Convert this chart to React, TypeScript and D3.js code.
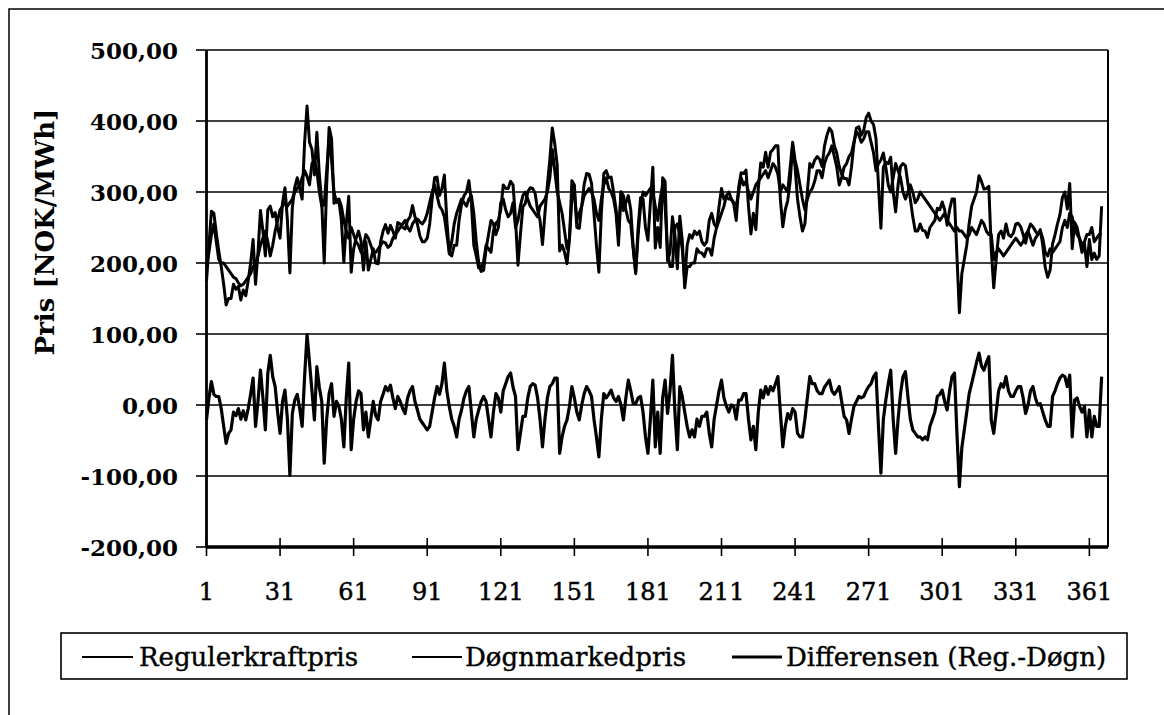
import React from "react";
import * as d3 from "d3";

// Døgnmarkedpris (system price) NOK/MWh, day 1..366
const dognValues: number[] = [
  195, 215, 240, 255, 230, 205, 200, 200, 195, 190,
  185, 180, 178, 172, 168, 170, 175, 180, 185, 195,
  200, 210, 225, 235, 245, 230, 210, 225, 245, 260,
  275, 280, 285, 280, 285, 290, 300, 305, 310, 320,
  330, 322, 310, 340, 345, 330, 300, 280, 282, 330,
  375, 345, 300, 285, 290, 280, 260, 245, 235, 250,
  240, 230, 225, 215, 225, 240, 235, 225, 215, 215,
  220, 225, 230, 228, 222, 225, 235, 240, 245, 250,
  255, 260, 250, 245, 255, 260, 262, 258, 255, 260,
  270, 285, 300, 310, 295, 280, 275, 265, 240, 215,
  230, 255, 270, 280, 290, 285, 280, 290, 295, 270,
  230, 200, 188, 190, 220, 240, 260, 255, 240, 250,
  285, 290, 275, 265, 270, 285, 250, 260, 280, 295,
  300, 290, 280, 275, 270, 265, 280, 285, 290, 300,
  320, 360, 330, 300, 285, 270, 245, 220, 235, 290,
  300, 260, 270, 280, 295, 300, 305, 300, 290, 270,
  260, 290, 310, 320, 305, 300, 290, 270, 225, 300,
  295, 275, 260, 255, 220, 185, 240, 280, 300, 295,
  300, 305, 300, 280, 260, 290, 310, 280, 215, 195,
  195, 250, 255, 240, 220, 175, 225, 240, 235, 245,
  240, 245, 230, 225, 230, 260, 270, 255, 250, 260,
  270, 280, 295, 300, 290, 285, 280, 300, 320, 310,
  315, 300, 290, 300, 310, 315, 320, 325, 330, 320,
  330, 340, 335, 325, 300, 310, 305, 300, 335, 370,
  345, 330, 310, 290, 275, 290, 300, 305, 315, 330,
  330, 320, 340, 350, 355, 365, 350, 335, 310, 320,
  335, 340, 350, 355, 370, 385, 380, 370, 375, 385,
  385, 370, 355, 330, 340, 345, 355, 335, 310, 300,
  320, 340, 330, 320, 300, 290, 300, 310, 300, 285,
  290, 300, 295, 290, 285, 280, 275, 270, 265, 260,
  265, 270, 260, 255, 250, 245, 250, 245, 245, 240,
  235, 240, 250, 245, 240, 250, 260, 255, 245, 240,
  240, 205, 215, 220, 215, 210, 215, 220, 225, 230,
  235, 230, 225, 230, 240, 245, 235, 225, 235, 240,
  245, 235, 215, 210, 220, 215, 220, 225, 230, 250,
  260, 250, 270, 265, 250, 240, 235, 225, 230, 240,
  240, 250, 230, 235, 240, 240,
];

// Differensen (Reg.-Døgn)
const diffValues: number[] = [
  -21, 10, 33, 15, 12, 12, -5, -30, -54, -40,
  -35, -10, -15, -5, -20, -8, -21, -5, 15, 38,
  -30, 5, 49, 10, -35, 45, 70, 40, 26, -10,
  -40, 5, 21, -20, -99, -12, 7, 15, -5, -30,
  40, 99, 60, 20, -21, 54, 25, 5, -82, -20,
  16, 30, -16, 5, -2, -20, -59, 10, 59, -63,
  -20, 5, 20, 16, -35, -10, -45, -20, 5, -15,
  -21, 5, 15, 26, 20, 28, 10, -5, 12, 5,
  -5, -12, 10, 20, 26, 5, -7, -20, -25, -30,
  -35, -30, -10, 10, 26, 15, 30, 59, 20, -2,
  -20, -30, -45, -20, -7, 10, 20, 26, -10, -45,
  -20, -7, 5, 12, 5, -20, -45, -10, 16, 10,
  -10, 20, 30, 40, 45, 25, 12, -63, -40, -16,
  -16, 10, 26, 30, 28, 10, -20, -59, -20, 10,
  26, 30, 38, 38, -68, -45, -30, -21, -2, 26,
  10, -10, -21, 0, 16, 26, 20, 12, -20, -45,
  -73, -20, 16, 10, 15, 21, 10, 5, 12, 0,
  -21, 10, 35, 20, 2, 2, 10, 12, -10, -45,
  -68, -20, 35, -59, -10, -68, 10, 35, -12, 20,
  70, -10, -63, 26, 12, -10, -30, -45, -35, -45,
  -20, -30, -16, -16, -10, -40, -59, -20, 0, 20,
  35, 10, -2, -10, 0, -2, -20, 7, 7, 16,
  16, -20, -49, -30, -63, -10, 21, 10, 26, 15,
  26, 20, 30, 40, -10, -59, -30, -12, -20, -5,
  -10, -40, -45, -45, -20, 10, 40, 30, 30, 20,
  16, 16, 25, 30, 35, 20, 15, 20, 26, 5,
  -16, -21, -40, -20, -2, 5, 12, 10, 12, 20,
  26, 30, 40, 45, -30, -96, -20, 7, 30, 49,
  -20, -68, -20, 16, 40, 47, 12, -20, -35, -40,
  -45, -45, -49, -45, -49, -30, -20, -10, 12, 15,
  21, 5, -7, 20, 40, 45, -40, -115, -60, -35,
  -10, 16, 30, 45, 60, 73, 55, 49, 60, 68,
  -21, -40, -10, 20, 30, 25, 40, 20, 12, 12,
  20, 26, 26, 10, -12, 0, 20, 26, 10, 0,
  2, -10, -21, -30, -30, 12, 20, 30, 38, 42,
  40, 26, 42, -45, 7, 10, -2, -10, -2, -45,
  -7, -45, -16, -30, -30, 40,
];

// Regulerkraftpris
const regValues: number[] = [
  174, 225, 273, 270, 242, 217, 195, 170, 141, 150,
  150, 170, 163, 167, 148, 162, 154, 175, 200, 233,
  170, 215, 274, 245, 210, 275, 280, 265, 271, 250,
  235, 285, 306, 260, 186, 278, 307, 320, 305, 290,
  370, 421, 370, 360, 324, 384, 325, 285, 200, 310,
  391, 375, 284, 290, 288, 260, 201, 255, 294, 187,
  220, 235, 245, 231, 190, 230, 190, 205, 220, 200,
  199, 230, 245, 254, 242, 253, 245, 235, 257, 255,
  250, 248, 260, 265, 281, 265, 255, 238, 230, 230,
  235, 255, 290, 320, 321, 295, 305, 324, 260, 213,
  210, 225, 225, 260, 283, 295, 300, 316, 285, 225,
  210, 193, 193, 202, 225, 220, 215, 245, 256, 260,
  275, 310, 305, 305, 315, 310, 262, 197, 240, 279,
  284, 300, 306, 305, 298, 275, 260, 226, 270, 310,
  346, 390, 368, 338, 217, 225, 215, 199, 233, 316,
  310, 250, 249, 280, 311, 326, 325, 312, 270, 225,
  187, 270, 326, 330, 320, 321, 300, 275, 237, 300,
  274, 285, 295, 275, 222, 187, 250, 292, 290, 250,
  232, 285, 335, 221, 250, 222, 320, 315, 203, 215,
  265, 240, 192, 266, 232, 165, 195, 195, 200, 200,
  220, 215, 214, 209, 220, 220, 211, 235, 250, 280,
  305, 290, 293, 290, 290, 283, 260, 307, 327, 326,
  331, 280, 241, 270, 247, 305, 341, 335, 356, 335,
  356, 360, 365, 365, 290, 251, 275, 288, 315, 365,
  335, 290, 265, 245, 255, 300, 340, 335, 345, 350,
  346, 336, 365, 380, 390, 385, 365, 355, 336, 325,
  319, 319, 310, 335, 368, 390, 392, 380, 387, 405,
  411, 400, 395, 375, 310, 249, 335, 342, 340, 349,
  300, 272, 310, 336, 340, 337, 312, 290, 265, 245,
  245, 255, 246, 245, 236, 250, 255, 260, 277, 275,
  286, 275, 253, 275, 290, 290, 210, 130, 185, 205,
  225, 256, 280, 290, 300, 323, 315, 304, 305, 308,
  219, 165, 205, 240, 245, 235, 255, 240, 237, 242,
  255, 256, 251, 240, 228, 245, 255, 251, 245, 240,
  247, 225, 194, 180, 190, 227, 240, 255, 268, 292,
  300, 276, 312, 220, 257, 250, 233, 215, 228, 195,
  233, 205, 214, 205, 210, 280,
];

const yTicks: number[] = [500, 400, 300, 200, 100, 0, -100, -200];
const xTickLabels: number[] = [1, 31, 61, 91, 121, 151, 181, 211, 241, 271, 301, 331, 361];
const legendLabels: string[] = ["Regulerkraftpris", "Døgnmarkedpris", "Differensen (Reg.-Døgn)"];
const yTitle = "Pris [NOK/MWh]";

const FONT = "'DejaVu Serif', 'Liberation Serif', serif";

export default function App() {
  const W = 1164;
  const H = 715;
  const left = 206.5;
  const right = 1108;
  const top = 50;
  const bottom = 547;

  const x = d3.scaleLinear().domain([1, 368.6]).range([left, right]);
  const y = d3.scaleLinear().domain([-200, 500]).range([bottom, top]);

  const line = d3
    .line<number>()
    .x((_, i) => x(i + 1))
    .y((d) => y(d));

  const fmt = (v: number) => d3.format(".2f")(v).replace(".", ",").replace("−", "-");

  const legendItems = [
    { label: legendLabels[0], x1: 82, x2: 133, tx: 139, w: 1.8 },
    { label: legendLabels[1], x1: 412, x2: 462, tx: 465, w: 1.8 },
    { label: legendLabels[2], x1: 732, x2: 782, tx: 786, w: 3 },
  ];
  const legendY = 657;

  return (
    <svg
      width={W}
      height={H}
      style={{ position: "absolute", left: 0, top: 0, background: "#fff" }}
      fontFamily={FONT}
    >
      <rect x={0} y={0} width={W} height={H} fill="#fff" />
      {/* outer frame */}
      <rect x={9} y={9} width={1250} height={900} fill="none" stroke="#000" strokeWidth={1.5} />

      {/* gridlines */}
      {yTicks.map((t) => (
        <line key={"g" + t} x1={left} x2={right} y1={y(t)} y2={y(t)} stroke="#000" strokeWidth={t === -200 ? 3 : 1.6} />
      ))}
      {/* y tick marks */}
      {yTicks.map((t) => (
        <line key={"yt" + t} x1={196} x2={left} y1={y(t)} y2={y(t)} stroke="#000" strokeWidth={1.6} />
      ))}

      {/* series */}
      <path d={line(dognValues) || ""} fill="none" stroke="#000" strokeWidth={3} strokeLinejoin="round" />
      <path d={line(regValues) || ""} fill="none" stroke="#000" strokeWidth={3} strokeLinejoin="round" />
      <path d={line(diffValues) || ""} fill="none" stroke="#000" strokeWidth={3.2} strokeLinejoin="round" />

      {/* plot borders */}
      <line x1={left} x2={left} y1={top} y2={bottom} stroke="#000" strokeWidth={2.8} />
      <line x1={right} x2={right} y1={top} y2={bottom} stroke="#000" strokeWidth={2} />
      <line x1={left} x2={right} y1={bottom} y2={bottom} stroke="#000" strokeWidth={3} />

      {/* x tick marks */}
      {xTickLabels.map((t) => (
        <line key={"xt" + t} x1={x(t)} x2={x(t)} y1={bottom - 9} y2={bottom + 9} stroke="#000" strokeWidth={1.6} />
      ))}

      {/* y labels */}
      {yTicks.map((t) => (
        <text
          key={"yl" + t}
          x={178}
          y={y(t)}
          textAnchor="end"
          dominantBaseline="central"
          fontSize={23}
          fontWeight="bold"
        >
          {fmt(t)}
        </text>
      ))}

      {/* x labels */}
      {xTickLabels.map((t) => (
        <text
          key={"xl" + t}
          x={x(t)}
          y={600}
          textAnchor="middle"
          fontSize={24}
          stroke="#000"
          strokeWidth={0.5}
        >
          {t}
        </text>
      ))}

      {/* y title */}
      <text
        transform="translate(45,232) rotate(-90)"
        textAnchor="middle"
        dominantBaseline="central"
        fontSize={26}
        fontWeight="bold"
      >
        {yTitle}
      </text>

      {/* legend */}
      <rect x={61} y={633} width={1066} height={46} fill="#fff" stroke="#000" strokeWidth={1.6} />
      {legendItems.map((it) => (
        <g key={it.label}>
          <line x1={it.x1} x2={it.x2} y1={legendY} y2={legendY} stroke="#000" strokeWidth={it.w} />
          <text
            x={it.tx}
            y={legendY}
            dominantBaseline="central"
            fontSize={26}
            stroke="#000"
            strokeWidth={0.4}
          >
            {it.label}
          </text>
        </g>
      ))}
    </svg>
  );
}
